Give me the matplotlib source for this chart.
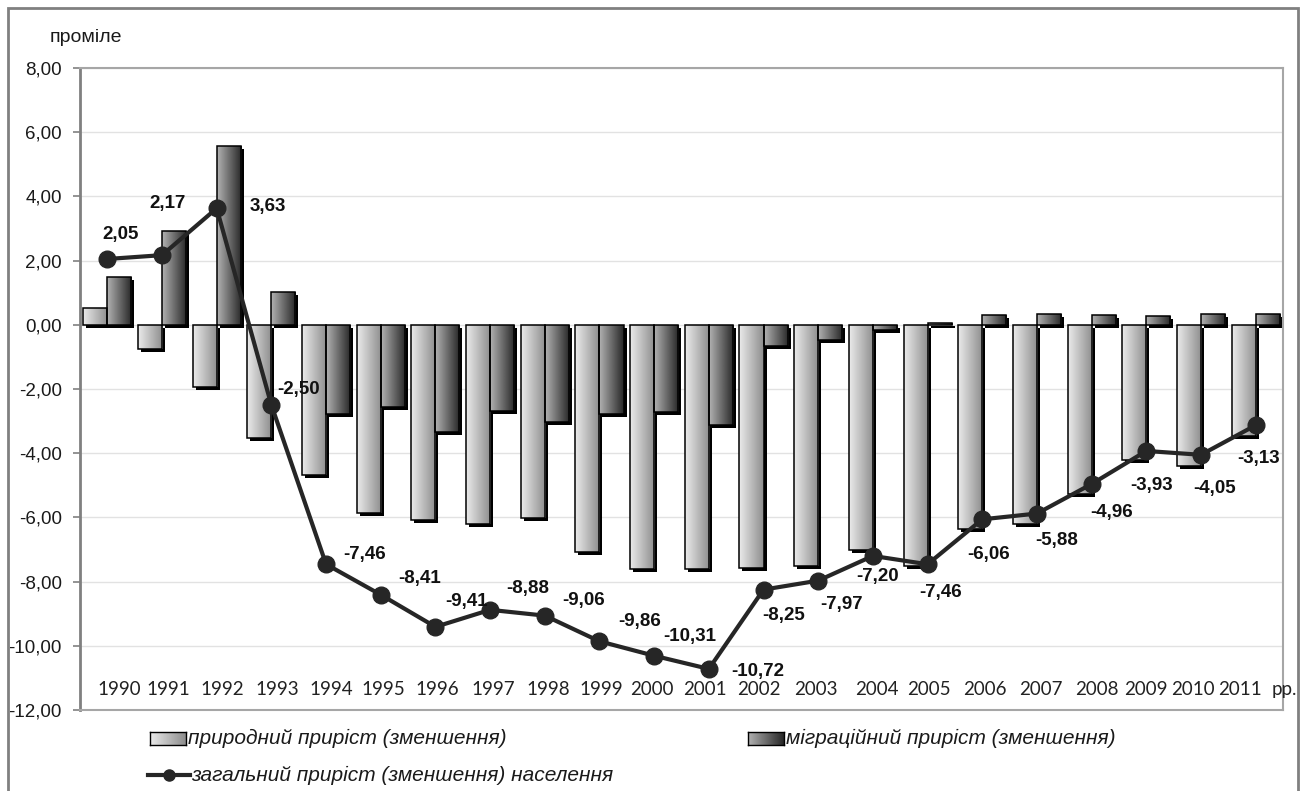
import matplotlib.pyplot as plt
import numpy as np
from matplotlib.patches import Rectangle
from matplotlib.lines import Line2D
from matplotlib.transforms import ScaledTranslation

# data (проміле)
years = ['1990', '1991', '1992', '1993', '1994', '1995', '1996', '1997', '1998', '1999', '2000',
         '2001', '2002', '2003', '2004', '2005', '2006', '2007', '2008', '2009', '2010', '2011']
natural = [0.52, -0.75, -1.95, -3.52, -4.68, -5.85, -6.08, -6.20, -6.02, -7.08, -7.60,
           -7.60, -7.58, -7.50, -7.03, -7.51, -6.35, -6.22, -5.27, -4.20, -4.39, -3.47]
migration = [1.50, 2.93, 5.58, 1.02, -2.78, -2.56, -3.33, -2.68, -3.04, -2.78, -2.71,
             -3.12, -0.67, -0.47, -0.17, 0.05, 0.29, 0.34, 0.31, 0.27, 0.34, 0.34]
total = [2.05, 2.17, 3.63, -2.50, -7.46, -8.41, -9.41, -8.88, -9.06, -9.86, -10.31,
         -10.72, -8.25, -7.97, -7.20, -7.46, -6.06, -5.88, -4.96, -3.93, -4.05, -3.13]

# label offsets from the points, in pixels (x right, y down)
label_off = [(13, -24), (6, -52), (51, -2), (27, -16), (38, -10), (39, -16), (31, -25),
             (38, -21), (39, -15), (40, -20), (36, -19), (49, 3), (20, 26), (23, 24),
             (5, 21), (13, 28), (6, 35), (20, 27), (20, 28), (5, 35), (14, 34), (3, 33)]
year_off = [12, 6, 6, 6, 5, 3, 2, 3, 3, 2, -2, -4, -5, -2, 4, 1, 3, 4, 5, 0, -8, -16]

plt.rcParams['font.family'] = ['Liberation Sans', 'DejaVu Sans']

W, H = 1301, 791
fig = plt.figure(figsize=(W / 100, H / 100), dpi=100)
ax = fig.add_axes([80 / W, 1 - 710 / H, (1283 - 80) / W, (710 - 68) / H])

x = np.arange(len(years))
w = 0.44

# black drop shadow under the bars
shadow = ax.transData + ScaledTranslation(3 / 100, -3 / 100, fig.dpi_scale_trans)
ax.bar(x - w / 2, natural, w, color='black', transform=shadow, zorder=2)
ax.bar(x + w / 2, migration, w, color='black', transform=shadow, zorder=2)

bars_n = ax.bar(x - w / 2, natural, w, facecolor='none', edgecolor='black', lw=1.1, zorder=4)
bars_m = ax.bar(x + w / 2, migration, w, facecolor='none', edgecolor='black', lw=1.1, zorder=4)

grad_light = np.linspace(0.92, 0.55, 256).reshape(1, -1)
grad_dark = np.linspace(0.70, 0.15, 256).reshape(1, -1)


def fill_gradient(bars, grad):
    for b in bars:
        x0, y0 = b.get_x(), b.get_y()
        x1, y1 = x0 + b.get_width(), y0 + b.get_height()
        im = ax.imshow(grad, cmap='gray', vmin=0, vmax=1, aspect='auto', interpolation='bilinear',
                       extent=[x0, x1, min(y0, y1), max(y0, y1)], zorder=3)
        im.set_clip_path(b)


fill_gradient(bars_n, grad_light)
fill_gradient(bars_m, grad_dark)

# total line
ax.plot(x, total, color='#262626', lw=3, marker='o', ms=12, zorder=6)
for i, v in enumerate(total):
    dx, dy = label_off[i]
    ax.annotate(f'{v:.2f}'.replace('.', ','), (x[i], v), xytext=(dx, -dy), textcoords='offset pixels',
                ha='center', va='center', fontsize=13.5, fontweight='bold', color='#111111', zorder=7)

# year labels inside the plot
for i, yr in enumerate(years):
    ax.annotate(yr, (x[i], -11.37), xytext=(year_off[i], 0), textcoords='offset pixels',
                ha='center', va='center', fontsize=13.5, family=['Lato', 'DejaVu Sans'], color='#222222')
ax.annotate('рр.', (x[-1], -11.37), xytext=(16, 0), textcoords='offset pixels',
            ha='left', va='center', fontsize=13.5, family=['Lato', 'DejaVu Sans'], color='#222222')

ax.set_xlim(-0.5, len(years) - 0.5)
ax.set_ylim(-12, 8)
ax.set_xticks([])
ax.set_yticks(np.arange(-12, 9, 2))
ax.set_yticklabels([f'{t:.2f}'.replace('.', ',') for t in np.arange(-12, 9, 2)])
ax.tick_params(axis='y', direction='out', length=5, width=1.2, color='#808080', pad=8,
               labelsize=13.5, labelcolor='#1a1a1a')
ax.yaxis.grid(True, color='#e2e2e2', lw=1)
ax.set_axisbelow(True)
ax.spines['left'].set_color('#808080')
ax.spines['left'].set_linewidth(2)
for s in ['top', 'right', 'bottom']:
    ax.spines[s].set_color('#a6a6a6')
    ax.spines[s].set_linewidth(1.5)

fig.text(50 / W, 1 - 38 / H, 'проміле', fontsize=14, va='center', ha='left', color='#1a1a1a')

# outer chart frame
fig.add_artist(Rectangle((8 / W, -0.1), (1298 - 8) / W, 1.1 - 8 / H, transform=fig.transFigure,
                         fill=False, ec='#808080', lw=2))

# legend
for (lx, grad, label) in [(150, grad_light, 'природний приріст (зменшення)'),
                          (748, grad_dark, 'міграційний приріст (зменшення)')]:
    sw = fig.add_axes([lx / W, 1 - 745 / H, 36 / W, 13 / H])
    sw.imshow(grad, cmap='gray', vmin=0, vmax=1, aspect='auto', interpolation='bilinear')
    sw.set_xticks([])
    sw.set_yticks([])
    for s in sw.spines.values():
        s.set_color('black')
        s.set_linewidth(1)
    fig.text((lx + 38) / W, 1 - 738 / H, label, fontsize=15, style='italic', va='center', ha='left',
             color='#1a1a1a')

fig.add_artist(Line2D([148 / W, 190 / W], [1 - 775 / H] * 2, transform=fig.transFigure,
                      color='#262626', lw=3))
fig.add_artist(Line2D([169 / W], [1 - 775 / H], transform=fig.transFigure, color='#262626',
                      marker='o', ms=8))
fig.text(191 / W, 1 - 775 / H, 'загальний приріст (зменшення) населення', fontsize=15, style='italic',
         va='center', ha='left', color='#1a1a1a')

fig.savefig('out.png', dpi=100, facecolor='white')
